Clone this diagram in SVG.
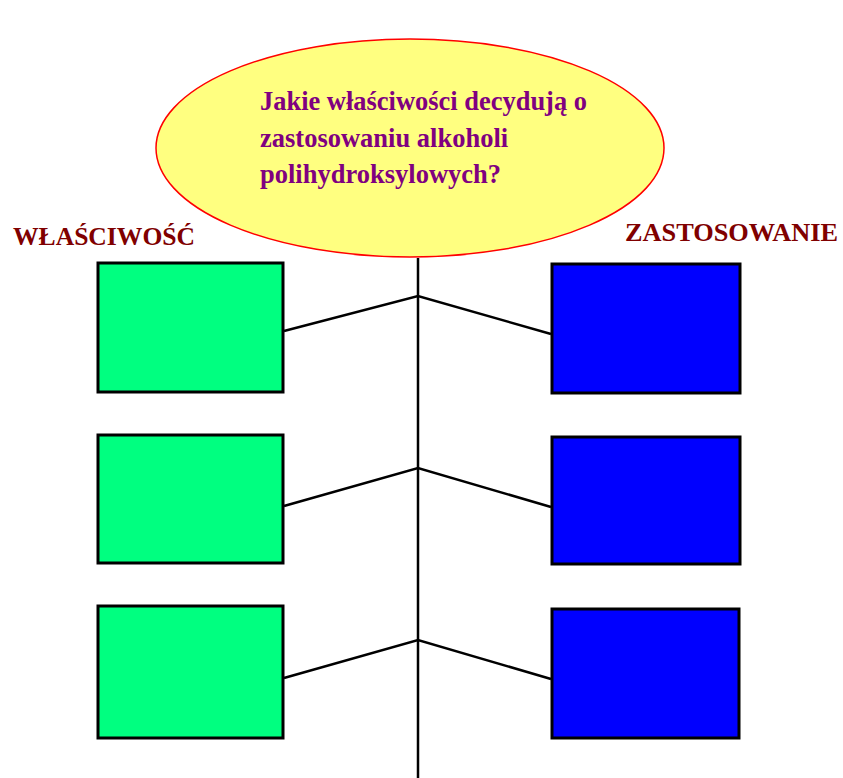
<svg xmlns="http://www.w3.org/2000/svg" width="843" height="778" viewBox="0 0 843 778">
<style>
.prop{fill:#00FF80;stroke:#000;stroke-width:3}
.use{fill:#0000FF;stroke:#000;stroke-width:3}
.head{font-family:"Liberation Serif",serif;font-weight:bold;font-size:26px;fill:#800000}
.q{font-family:"Liberation Serif",serif;font-weight:bold;font-size:26.5px;fill:#800080}
.conn{fill:none;stroke:#000;stroke-width:2.5;stroke-linejoin:miter}
</style>
<rect width="843" height="778" fill="#fff"/>
<g id="connectors">
<line class="conn" x1="418" y1="258" x2="418" y2="778" stroke-width="2"/>
<polyline class="conn" points="284,331 418,296 551,334"/>
<polyline class="conn" points="284,506 418,468 551,507"/>
<polyline class="conn" points="284,678 418,640 551,679"/>
</g>
<g id="question">
<ellipse cx="410" cy="148" rx="254" ry="109" fill="#FFFF80" stroke="#FF0000" stroke-width="1.5"/>
<text class="q" x="260" y="110" textLength="327" lengthAdjust="spacingAndGlyphs">Jakie właściwości decydują o</text>
<text class="q" x="260" y="147">zastosowaniu alkoholi</text>
<text class="q" x="260" y="183">polihydroksylowych?</text>
</g>
<g id="label-wlasciwosc"><text class="head" x="13" y="245" textLength="182" lengthAdjust="spacingAndGlyphs">WŁAŚCIWOŚĆ</text></g>
<g id="label-zastosowanie"><text class="head" x="625" y="241" textLength="213" lengthAdjust="spacingAndGlyphs">ZASTOSOWANIE</text></g>
<g id="prop1"><rect class="prop" x="98" y="263" width="185" height="129"/></g>
<g id="prop2"><rect class="prop" x="98" y="435" width="185" height="128"/></g>
<g id="prop3"><rect class="prop" x="98" y="606" width="185" height="132"/></g>
<g id="use1"><rect class="use" x="552" y="264" width="188" height="129"/></g>
<g id="use2"><rect class="use" x="552" y="437" width="188" height="127"/></g>
<g id="use3"><rect class="use" x="552" y="609" width="187" height="129"/></g>
</svg>
